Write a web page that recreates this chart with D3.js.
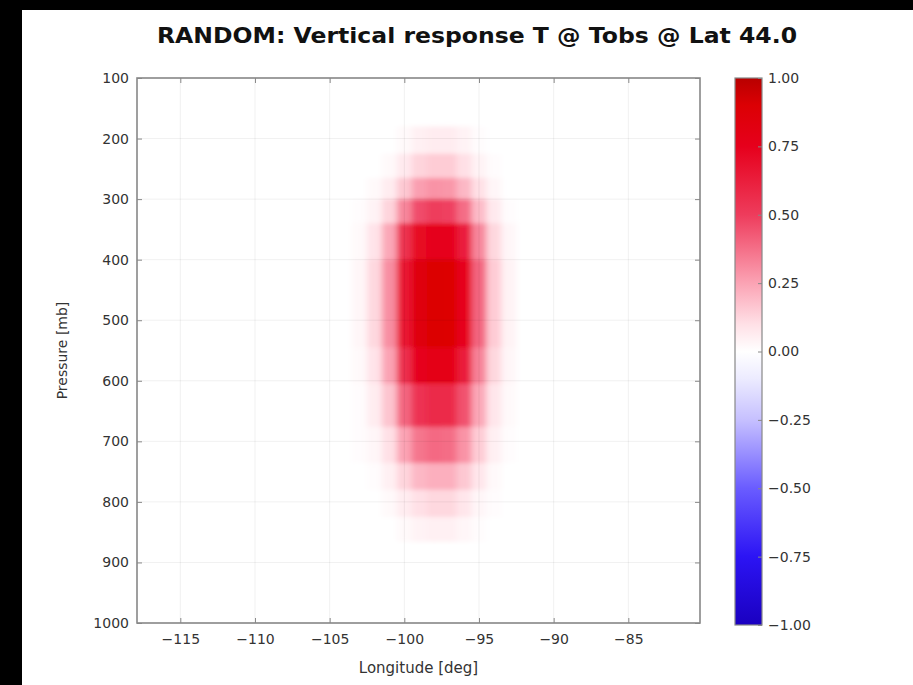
<!DOCTYPE html>
<html>
<head>
<meta charset="utf-8">
<script src="https://cdn.jsdelivr.net/npm/d3@7"></script>
<style>
  body { margin: 0; background: #000; }
  text { font-family: "DejaVu Sans", sans-serif; }
</style>
</head>
<body>
<div id="chart"></div>
<script>
// grid columns (deg) and pressure cell edges (mb) of the response blob
const lonCenters = [-103, -102, -101, -100, -99, -98, -97, -96, -95, -94, -93, -92];
const pEdges = [180, 225, 265, 300, 340, 400, 545, 605, 676, 736, 780, 825, 865];
const response = [
  [0, 0, 0, 0.02, 0.05, 0.06, 0.06, 0.04, 0.01, 0, 0, 0],
  [0, 0, 0.02, 0.07, 0.13, 0.15, 0.15, 0.1, 0.04, 0.01, 0, 0],
  [0, 0.02, 0.06, 0.16, 0.26, 0.29, 0.28, 0.2, 0.1, 0.03, 0, 0],
  [0.01, 0.04, 0.13, 0.32, 0.46, 0.5, 0.49, 0.38, 0.19, 0.07, 0.01, 0],
  [0.02, 0.09, 0.24, 0.55, 0.72, 0.76, 0.75, 0.62, 0.32, 0.12, 0.03, 0],
  [0.03, 0.12, 0.3, 0.66, 0.85, 0.9, 0.89, 0.74, 0.4, 0.15, 0.04, 0],
  [0.02, 0.09, 0.25, 0.56, 0.74, 0.78, 0.77, 0.63, 0.33, 0.12, 0.03, 0],
  [0.01, 0.06, 0.17, 0.4, 0.54, 0.58, 0.57, 0.45, 0.24, 0.08, 0.02, 0],
  [0.01, 0.03, 0.1, 0.25, 0.36, 0.39, 0.38, 0.29, 0.15, 0.05, 0.01, 0],
  [0, 0.01, 0.05, 0.13, 0.2, 0.22, 0.22, 0.16, 0.08, 0.02, 0, 0],
  [0, 0, 0.02, 0.06, 0.1, 0.12, 0.12, 0.08, 0.03, 0.01, 0, 0],
  [0, 0, 0, 0.02, 0.04, 0.05, 0.05, 0.03, 0.01, 0, 0, 0]
];

const xTicks = [-115, -110, -105, -100, -95, -90, -85];
const yTicks = [100, 200, 300, 400, 500, 600, 700, 800, 900, 1000];
const cbTicks = [-1, -0.75, -0.5, -0.25, 0, 0.25, 0.5, 0.75, 1];

const cmapStops = [-1, -0.75, -0.5, -0.25, -0.1, 0, 0.1, 0.25, 0.5, 0.75, 0.9, 1];
const cmapColors = ['#1a00c0', '#2c14f4', '#6a5cff', '#c6c0ff', '#ecebff', '#ffffff',
                    '#ffe0e6', '#fba3b4', '#ee3c5c', '#e6001c', '#dc0004', '#b80000'];

const width = 913;
const height = 685;
const plot = { left: 137, right: 700, top: 78, bottom: 623 };
const cbar = { left: 735, right: 762, top: 78, bottom: 625 };

const svg = d3.select('#chart')
    .append('svg')
    .attr('width', width)
    .attr('height', height)
    .style('display', 'block');

svg.append('rect')
    .attr('width', width).attr('height', height)
    .attr('fill', '#000');

svg.append('rect')
    .attr('x', 22).attr('y', 10)
    .attr('width', width - 22).attr('height', height - 10)
    .attr('fill', '#fff');

const xScale = d3.scaleLinear().domain([-117.9, -80.2]).range([plot.left, plot.right]);
const yScale = d3.scaleLinear().domain([100, 1000]).range([plot.top, plot.bottom]);
const color = d3.scaleLinear().domain(cmapStops).range(cmapColors).clamp(true);

const defs = svg.append('defs');
defs.append('clipPath').attr('id', 'plot-clip')
    .append('rect')
    .attr('x', plot.left).attr('y', plot.top)
    .attr('width', plot.right - plot.left).attr('height', plot.bottom - plot.top);
defs.append('filter').attr('id', 'soft')
    .attr('x', '-20%').attr('y', '-20%').attr('width', '140%').attr('height', '140%')
    .append('feGaussianBlur').attr('stdDeviation', '3.2 2');

// heatmap
const cells = [];
response.forEach((row, i) => {
    row.forEach((v, j) => {
        cells.push({ lon: lonCenters[j], p0: pEdges[i], p1: pEdges[i + 1], v });
    });
});

svg.append('g')
    .attr('clip-path', 'url(#plot-clip)')
    .append('g')
    .attr('filter', 'url(#soft)')
    .selectAll('rect')
    .data(cells)
    .enter()
    .append('rect')
    .attr('x', d => xScale(d.lon - 0.5))
    .attr('y', d => yScale(d.p0))
    .attr('width', d => xScale(d.lon + 0.5) - xScale(d.lon - 0.5) + 0.5)
    .attr('height', d => yScale(d.p1) - yScale(d.p0) + 0.5)
    .attr('fill', d => color(d.v));

// grid lines
const grid = svg.append('g').attr('stroke', '#000').attr('stroke-opacity', 0.06).attr('stroke-width', 1);
grid.selectAll('.gx')
    .data(xTicks)
    .enter()
    .append('line')
    .attr('x1', d => xScale(d)).attr('x2', d => xScale(d))
    .attr('y1', plot.top).attr('y2', plot.bottom);
grid.selectAll('.gy')
    .data(yTicks)
    .enter()
    .append('line')
    .attr('x1', plot.left).attr('x2', plot.right)
    .attr('y1', d => yScale(d)).attr('y2', d => yScale(d));

// axes
const fmtInt = d3.format('d');
const xAxis = d3.axisBottom(xScale).tickValues(xTicks).tickFormat(fmtInt)
    .tickSizeInner(-5).tickSizeOuter(0).tickPadding(11);
const yAxis = d3.axisLeft(yScale).tickValues(yTicks).tickFormat(fmtInt)
    .tickSizeInner(-5).tickSizeOuter(0).tickPadding(8);

function styleAxis(g) {
    g.select('.domain').remove();
    g.selectAll('line').attr('stroke', '#888');
    g.selectAll('text').attr('fill', '#333').style('font-size', '14px');
}

svg.append('g')
    .attr('transform', `translate(0, ${plot.bottom})`)
    .call(xAxis)
    .call(styleAxis);

svg.append('g')
    .attr('transform', `translate(${plot.left}, 0)`)
    .call(yAxis)
    .call(styleAxis);

svg.append('g')
    .attr('transform', `translate(0, ${plot.top})`)
    .call(d3.axisTop(xScale).tickValues(xTicks).tickFormat('').tickSizeInner(-5).tickSizeOuter(0))
    .call(styleAxis);

svg.append('g')
    .attr('transform', `translate(${plot.right}, 0)`)
    .call(d3.axisRight(yScale).tickValues(yTicks).tickFormat('').tickSizeInner(-5).tickSizeOuter(0))
    .call(styleAxis);

svg.append('rect')
    .attr('x', plot.left).attr('y', plot.top)
    .attr('width', plot.right - plot.left).attr('height', plot.bottom - plot.top)
    .attr('fill', 'none')
    .attr('stroke', '#888')
    .attr('stroke-width', 1.6);

// labels
svg.append('text')
    .attr('x', (plot.left + plot.right) / 2)
    .attr('y', 673)
    .attr('text-anchor', 'middle')
    .attr('fill', '#333')
    .style('font-size', '15px')
    .text('Longitude [deg]');

svg.append('text')
    .attr('transform', `translate(67, ${(plot.top + plot.bottom) / 2}) rotate(-90)`)
    .attr('text-anchor', 'middle')
    .attr('fill', '#333')
    .style('font-size', '14px')
    .text('Pressure [mb]');

svg.append('text')
    .attr('x', 477)
    .attr('y', 43)
    .attr('text-anchor', 'middle')
    .attr('fill', '#111')
    .attr('textLength', 640)
    .attr('lengthAdjust', 'spacingAndGlyphs')
    .style('font-size', '21px')
    .style('font-weight', 'bold')
    .text('RANDOM: Vertical response T @ Tobs @ Lat 44.0');

// colorbar
const cbScale = d3.scaleLinear().domain([-1, 1]).range([cbar.bottom, cbar.top]);
const grad = defs.append('linearGradient')
    .attr('id', 'cb-grad')
    .attr('x1', 0).attr('y1', 1).attr('x2', 0).attr('y2', 0);
grad.selectAll('stop')
    .data(cmapStops)
    .enter()
    .append('stop')
    .attr('offset', d => (d + 1) / 2)
    .attr('stop-color', (d, i) => cmapColors[i]);

svg.append('rect')
    .attr('x', cbar.left).attr('y', cbar.top)
    .attr('width', cbar.right - cbar.left).attr('height', cbar.bottom - cbar.top)
    .attr('fill', 'url(#cb-grad)')
    .attr('stroke', '#888')
    .attr('stroke-width', 1.2);

svg.append('g')
    .attr('transform', `translate(${cbar.right}, 0)`)
    .call(d3.axisRight(cbScale).tickValues(cbTicks).tickFormat(d3.format('.2f'))
        .tickSizeInner(-4).tickSizeOuter(0).tickPadding(6))
    .call(styleAxis);
</script>
</body>
</html>
